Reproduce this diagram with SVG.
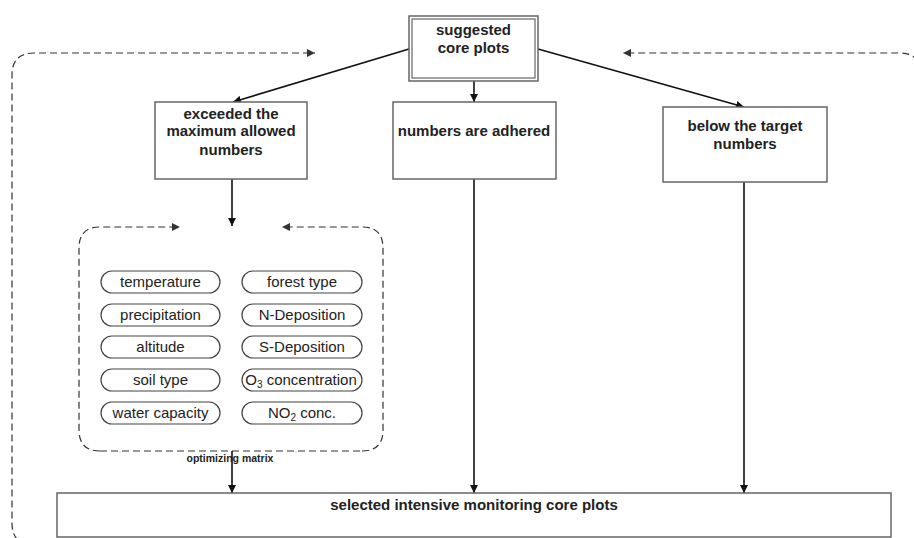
<svg xmlns="http://www.w3.org/2000/svg" width="914" height="538" viewBox="0 0 914 538">
<defs>
<marker id="ah" viewBox="0 0 10 10" refX="10" refY="5" markerWidth="8" markerHeight="8" markerUnits="userSpaceOnUse" orient="auto">
<path d="M0,0 L10,5 L0,10 z" fill="#111"/>
</marker>
<marker id="ahs" viewBox="0 0 10 10" refX="10" refY="5" markerWidth="8" markerHeight="8" markerUnits="userSpaceOnUse" orient="auto">
<path d="M0,0 L10,5 L0,10 z" fill="#333"/>
</marker>
</defs>
<style>
.box{fill:#fff;stroke:#666;stroke-width:1.5}
.pill{fill:#fff;stroke:#444;stroke-width:1.2}
.b{font-family:"Liberation Sans",Arial,sans-serif;font-weight:bold;font-size:15px;fill:#222;text-anchor:middle}
.r{font-family:"Liberation Sans",Arial,sans-serif;font-size:15px;fill:#222;text-anchor:middle}
.s{font-family:"Liberation Sans",Arial,sans-serif;font-weight:bold;font-size:10.5px;fill:#222;text-anchor:middle}
.con{fill:none;stroke:#111;stroke-width:1.6}
.dash{fill:none;stroke:#333;stroke-width:1.2;stroke-dasharray:7,4}
</style>
<rect width="914" height="538" fill="#fff"/>
<g id="connectors">
<path class="dash" d="M60,545 L34,545 Q12,545 12,523 L12,75 Q12,53 34,53 L315,53" marker-end="url(#ahs)"/>
<path class="dash" d="M920,545 L920,73 Q920,53 900,53 L623,53" marker-end="url(#ahs)"/>
<path class="dash" d="M100,451 Q79,451 79,430 L79,248 Q79,227 100,227 L180,227" marker-end="url(#ahs)"/>
<path class="dash" d="M362,451 Q383,451 383,430 L383,248 Q383,227 362,227 L282,227" marker-end="url(#ahs)"/>
<path class="dash" d="M100,451 L362,451"/>
<line class="con" x1="409" y1="49" x2="233" y2="102" marker-end="url(#ah)"/>
<line class="con" x1="474" y1="81" x2="474" y2="102" marker-end="url(#ah)"/>
<line class="con" x1="538" y1="49" x2="744" y2="107" marker-end="url(#ah)"/>
<line class="con" x1="232" y1="179" x2="232" y2="226" marker-end="url(#ah)"/>
<line class="con" x1="232" y1="451" x2="232" y2="493" marker-end="url(#ah)"/>
<line class="con" x1="474" y1="179" x2="474" y2="493" marker-end="url(#ah)"/>
<line class="con" x1="744" y1="182" x2="744" y2="493" marker-end="url(#ah)"/>
</g>
<g id="suggested">
<rect class="box" x="409" y="16" width="129" height="65"/>
<rect x="412" y="19" width="123" height="59" fill="none" stroke="#666" stroke-width="1.2"/>
<text class="b" x="473.5" y="35">suggested</text>
<text class="b" x="473.5" y="53">core plots</text>
</g>
<g id="exceeded">
<rect class="box" x="155" y="102" width="152" height="77"/>
<text class="b" x="231" y="119">exceeded the</text>
<text class="b" x="231" y="136">maximum allowed</text>
<text class="b" x="231" y="155">numbers</text>
</g>
<g id="adhered">
<rect class="box" x="393" y="102" width="163" height="77"/>
<text class="b" x="474" y="136">numbers are adhered</text>
</g>
<g id="below">
<rect class="box" x="663" y="107" width="164" height="75"/>
<text class="b" x="745" y="131">below the target</text>
<text class="b" x="745" y="149">numbers</text>
</g>
<g id="matrix">
<text class="s" x="230" y="462">optimizing matrix</text>
</g>
<g id="p-temperature"><rect class="pill" x="101" y="271" width="119" height="22" rx="11"/><text class="r" x="160.5" y="287">temperature</text></g>
<g id="p-precipitation"><rect class="pill" x="101" y="304" width="119" height="22" rx="11"/><text class="r" x="160.5" y="320">precipitation</text></g>
<g id="p-altitude"><rect class="pill" x="101" y="336" width="119" height="22" rx="11"/><text class="r" x="160.5" y="352">altitude</text></g>
<g id="p-soil"><rect class="pill" x="101" y="369" width="119" height="22" rx="11"/><text class="r" x="160.5" y="385">soil type</text></g>
<g id="p-water"><rect class="pill" x="101" y="402" width="119" height="22" rx="11"/><text class="r" x="160.5" y="418">water capacity</text></g>
<g id="p-forest"><rect class="pill" x="242" y="271" width="120" height="22" rx="11"/><text class="r" x="302" y="287">forest type</text></g>
<g id="p-ndep"><rect class="pill" x="242" y="304" width="120" height="22" rx="11"/><text class="r" x="302" y="320">N-Deposition</text></g>
<g id="p-sdep"><rect class="pill" x="242" y="336" width="120" height="22" rx="11"/><text class="r" x="302" y="352">S-Deposition</text></g>
<g id="p-o3"><rect class="pill" x="242" y="369" width="120" height="22" rx="11"/><text class="r" x="301" y="385">O<tspan font-size="10" dy="3">3</tspan><tspan dy="-3"> concentration</tspan></text></g>
<g id="p-no2"><rect class="pill" x="242" y="402" width="120" height="22" rx="11"/><text class="r" x="302" y="418">NO<tspan font-size="10" dy="3">2</tspan><tspan dy="-3"> conc.</tspan></text></g>
<g id="selected">
<rect class="box" x="57" y="493" width="834" height="44"/>
<text class="b" x="474" y="510">selected intensive monitoring core plots</text>
</g>
</svg>
